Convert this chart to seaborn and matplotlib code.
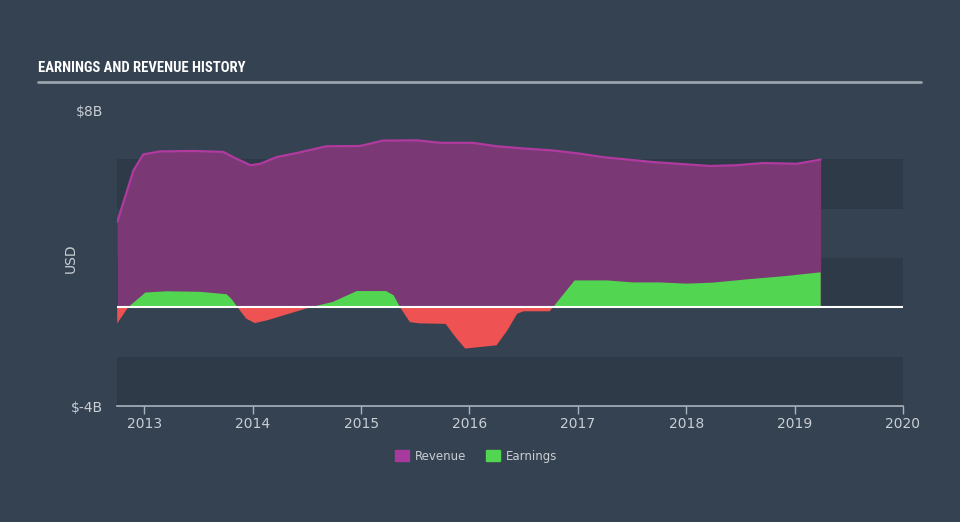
import numpy as np
import pandas as pd
import matplotlib
matplotlib.use("Agg")
import matplotlib.pyplot as plt
import matplotlib.patches as mpatches
import seaborn as sns

# ---- data (values in USD billions) ----
rev_year = [2012.75, 2012.90, 2012.99, 2013.14, 2013.45, 2013.73, 2013.82, 2013.98,
            2014.07, 2014.22, 2014.41, 2014.68, 2014.99, 2015.20, 2015.52, 2015.73,
            2016.03, 2016.25, 2016.53, 2016.77, 2017.02, 2017.23, 2017.69, 2018.22,
            2018.46, 2018.71, 2019.02, 2019.24]
revenue = [3.46, 5.55, 6.20, 6.32, 6.34, 6.30, 6.09, 5.76,
           5.82, 6.09, 6.26, 6.53, 6.54, 6.76, 6.77, 6.67,
           6.67, 6.53, 6.43, 6.36, 6.23, 6.09, 5.89, 5.73,
           5.76, 5.85, 5.82, 5.99]

earn_year = [2012.75, 2012.85, 2013.01, 2013.20, 2013.51, 2013.76, 2013.81, 2013.86,
             2013.94, 2014.02, 2014.13, 2014.53, 2014.74, 2014.96, 2015.23, 2015.30,
             2015.36, 2015.45, 2015.54, 2015.78, 2015.87, 2015.96, 2016.25, 2016.35,
             2016.44, 2016.50, 2016.74, 2016.77, 2016.97, 2017.27, 2017.51, 2017.76,
             2018.00, 2018.24, 2018.55, 2018.92, 2019.24]
earnings = [-0.65, 0.00, 0.60, 0.65, 0.63, 0.53, 0.31, 0.00,
            -0.46, -0.64, -0.53, 0.00, 0.22, 0.66, 0.66, 0.49,
            0.00, -0.60, -0.65, -0.67, -1.20, -1.67, -1.54, -0.93,
            -0.26, -0.16, -0.16, 0.00, 1.09, 1.09, 1.01, 1.01,
            0.96, 1.00, 1.13, 1.27, 1.42]

year_ticks = [2013, 2014, 2015, 2016, 2017, 2018, 2019, 2020]
y_ticks = [8, -4]
y_tick_labels = ["$8B", "$-4B"]
title = "EARNINGS AND REVENUE HISTORY"
series_names = ["Revenue", "Earnings"]

# ---- style ----
BG = "#344251"
BAND = "#2e3a48"
REV_FILL = "#7a3974"
REV_LINE = "#b03aa0"
REV_SWATCH = "#a83a9d"
GREEN = "#52d652"
RED = "#ee5252"
TXT = "#c9ced4"

sns.set_theme(style="dark", rc={"axes.facecolor": BG, "figure.facecolor": BG})
plt.rcParams["font.family"] = ["DejaVu Sans"]

fig = plt.figure(figsize=(9.6, 5.22), dpi=100)
ax = fig.add_axes([117 / 960, 1 - 406 / 522, (903 - 117) / 960, (406 - 110) / 522])
ax.set_facecolor(BG)

ax.set_xlim(2012.748, 2020.0)
ax.set_ylim(-4, 8)

# background bands
for lo, hi in [(4, 6), (0, 2), (-4, -2)]:
    ax.axhspan(lo, hi, color=BAND, zorder=0, lw=0)

rev_df = pd.DataFrame({"year": rev_year, "value": revenue})

ry = np.array(rev_year)
rv = np.array(revenue)
ax.fill_between(ry, 0, rv, color=REV_FILL, lw=0, zorder=1)
sns.lineplot(data=rev_df, x="year", y="value", ax=ax, color=REV_LINE, lw=1.6,
             zorder=2, legend=False)

ey = np.array(earn_year)
ev = np.array(earnings)
ax.fill_between(ey, 0, ev, where=ev >= 0, interpolate=True, color=GREEN, lw=0, zorder=3)
ax.fill_between(ey, 0, ev, where=ev <= 0, interpolate=True, color=RED, lw=0, zorder=3)

ax.axhline(0, color="white", lw=1.5, zorder=4)

# axes styling
for s in ["top", "right", "left"]:
    ax.spines[s].set_visible(False)
ax.spines["bottom"].set_color("#aab3bc")
ax.spines["bottom"].set_linewidth(1.2)

ax.set_xticks(year_ticks)
ax.set_xticklabels([str(y) for y in year_ticks], color=TXT, fontsize=10)
ax.tick_params(axis="x", which="major", direction="out", length=6, width=1,
               color="#aab3bc", pad=2, bottom=True)
ax.set_yticks(y_ticks)
ax.set_yticklabels(y_tick_labels, color=TXT, fontsize=10)
ax.tick_params(axis="y", length=0, pad=10)
ax.set_xlabel("")
ax.set_ylabel("USD", color=TXT, fontsize=10)
ax.yaxis.set_label_coords(-39 / 786, 0.5)
ax.grid(False)

# title and rule
fig.text(38 / 960, 1 - 68 / 522, title, color="white", fontsize=10.5,
         fontweight="bold",
         family=["Roboto Condensed", "Liberation Sans Narrow", "Roboto", "DejaVu Sans"],
         ha="left", va="center")
fig.add_artist(plt.Line2D([38 / 960, 921 / 960], [1 - 82 / 522, 1 - 82 / 522],
                          color="#9aa3ab", lw=2, transform=fig.transFigure))

# legend
handles = [mpatches.Patch(color=REV_SWATCH, label=series_names[0]),
           mpatches.Patch(color=GREEN, label=series_names[1])]
leg = fig.legend(handles=handles, loc="center", bbox_to_anchor=(476 / 960, 1 - 456 / 522),
                 ncol=2, frameon=False, fontsize=8.5, handlelength=1.15, handleheight=1.1,
                 columnspacing=1.7, handletextpad=0.5)
for t in leg.get_texts():
    t.set_color(TXT)

fig.savefig("out.png", dpi=100, facecolor=BG)
